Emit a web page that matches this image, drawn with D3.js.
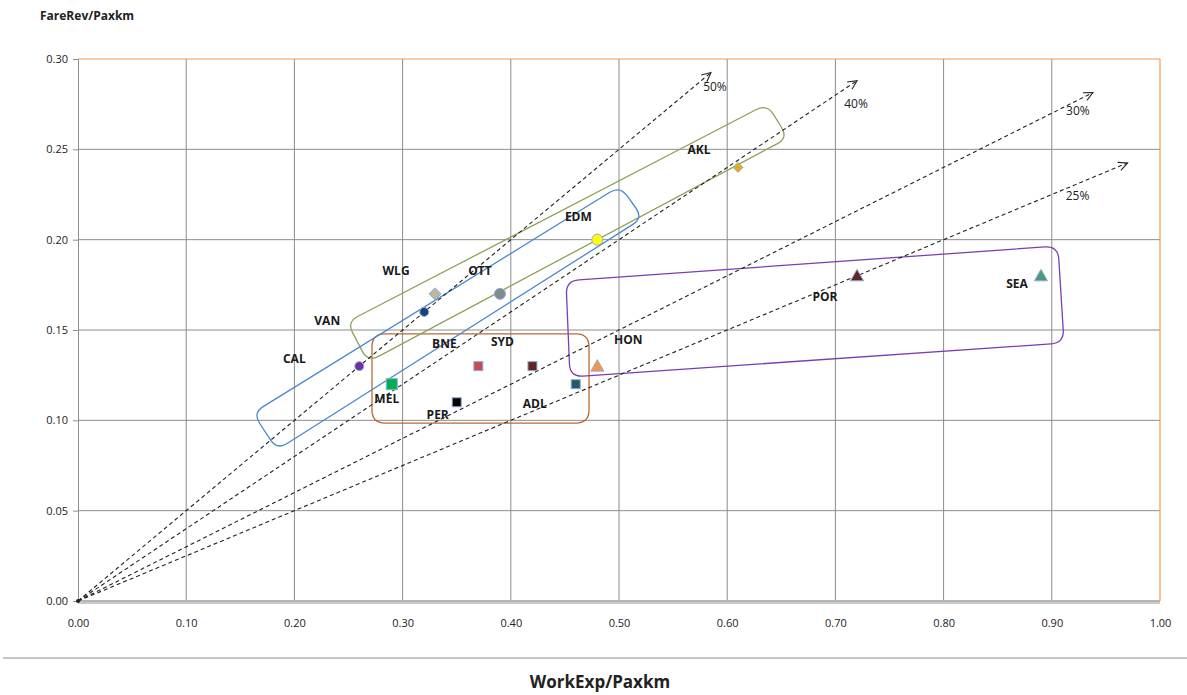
<!DOCTYPE html>
<html>
<head>
<meta charset="utf-8">
<script src="https://cdn.jsdelivr.net/npm/d3@7"></script>
<style>
  html, body { margin: 0; padding: 0; background: #fff; }
  svg { display: block; }
  text { font-family: "Open Sans", "Noto Sans", sans-serif; }
</style>
</head>
<body>
<div id="chart"></div>
<script>
// ---------------- data ----------------
const cities   = ["CAL", "VAN", "WLG", "OTT", "EDM", "AKL", "MEL", "BNE", "SYD", "PER", "ADL", "HON", "POR", "SEA"];
const workExp  = [0.26, 0.32, 0.33, 0.39, 0.48, 0.61, 0.29, 0.37, 0.42, 0.35, 0.46, 0.48, 0.72, 0.89];
const fareRev  = [0.13, 0.16, 0.17, 0.17, 0.20, 0.24, 0.12, 0.13, 0.13, 0.11, 0.12, 0.13, 0.18, 0.18];
const markerShapes = ["circle", "circle", "diamond", "circle", "circle", "diamond", "square", "square", "square", "square", "square", "triangle", "triangle", "triangle"];

// recovery-ratio guide lines from the origin (FareRev / WorkExp)
const ratioLabels = ["50%", "40%", "30%", "25%"];
const ratios      = [0.50, 0.40, 0.30, 0.25];
const ratioEndX   = [0.585, 0.72, 0.938, 0.97];

const xTicks = [0, 0.1, 0.2, 0.3, 0.4, 0.5, 0.6, 0.7, 0.8, 0.9, 1.0];
const yTicks = [0, 0.05, 0.10, 0.15, 0.20, 0.25, 0.30];

// grouping outlines (corners in data units)
const groupBlue   = [[0.1617, 0.1041], [0.5009, 0.2297], [0.5222, 0.2120], [0.1839, 0.0836]];
const groupGreen  = [[0.2486, 0.1544], [0.6368, 0.2751], [0.6562, 0.2563], [0.2680, 0.1323]];
const groupBrown  = [[0.2717, 0.1478], [0.4723, 0.1478], [0.4723, 0.0985], [0.2717, 0.0985]];
const groupPurple = [[0.4510, 0.1772], [0.9057, 0.1965], [0.9113, 0.1428], [0.4547, 0.1240]];

// ---------------- styles ----------------
const markerFill = ["#7030A0", "#1F3F7A", "#BDB7A2", "#7F8C8D", "#FFFF00", "#E3AE1B", "#00B050", "#C0504D", "#632523", "#000000", "#215967", "#F79646", "#632523", "#4A9A80"];
const labelOffset = [[-65, -6], [-97, 10], [-39, -22], [-20, -22], [-19, -22], [-39, -17], [-5, 16], [-34, -21], [-30, -23], [-19, 14], [-41, 21], [31, -25], [-32, 22], [-24, 9]];
const ratioLabelOffset = [[4, 15], [-1, 24], [-15, 19], [-50, 34]];

const W = 1187, H = 695;
const x0 = 78, x1 = 1160, y0 = 601, y1 = 59;

const svg = d3.select("#chart").append("svg").attr("width", W).attr("height", H);

const x = d3.scaleLinear().domain([0, 1]).range([x0, x1]);
const y = d3.scaleLinear().domain([0, 0.30]).range([y0, y1]);

// gridlines
svg.append("g").selectAll("line").data(yTicks.filter(t => t > 0 && t < 0.3)).join("line")
  .attr("x1", x0).attr("x2", x1).attr("y1", d => y(d)).attr("y2", d => y(d))
  .attr("stroke", "#8c8c8c").attr("stroke-width", 1);
svg.append("g").selectAll("line").data(xTicks.filter(t => t > 0 && t < 1)).join("line")
  .attr("y1", y1).attr("y2", y0).attr("x1", d => x(d)).attr("x2", d => x(d))
  .attr("stroke", "#8c8c8c").attr("stroke-width", 1);

// orange top/right borders
svg.append("line").attr("x1", x0).attr("x2", x1).attr("y1", y(0.30)).attr("y2", y(0.30))
  .attr("stroke", "#F79646").attr("stroke-width", 1.2);
svg.append("line").attr("x1", x(1)).attr("x2", x(1)).attr("y1", y1).attr("y2", y0)
  .attr("stroke", "#F79646").attr("stroke-width", 1.2);

// y axis
const yAxis = d3.axisLeft(y).tickValues(yTicks).tickFormat(d3.format(".2f")).tickSize(5).tickPadding(5);
const gy = svg.append("g").attr("transform", `translate(${x0},0)`).call(yAxis);
gy.select(".domain").attr("stroke", "#8c8c8c");
gy.selectAll(".tick line").attr("stroke", "#8c8c8c");
gy.selectAll("text").attr("font-size", 11).attr("fill", "#222").style("font-family", "'Open Sans', sans-serif");

// x axis
const xAxis = d3.axisBottom(x).tickValues(xTicks).tickFormat(d3.format(".2f")).tickSize(0).tickPadding(18);
const gx = svg.append("g").attr("transform", `translate(0,${y0})`).call(xAxis);
gx.select(".domain").remove();
gx.selectAll("text").attr("font-size", 11).attr("fill", "#222").style("font-family", "'Open Sans', sans-serif");
svg.append("line").attr("x1", x0).attr("x2", x1).attr("y1", y0 + 1).attr("y2", y0 + 1)
  .attr("stroke", "#c8c8c8").attr("stroke-width", 4);
svg.append("line").attr("x1", x0).attr("x2", x1).attr("y1", y0).attr("y2", y0)
  .attr("stroke", "#a0a0a0").attr("stroke-width", 1);

// rounded polygon helper
function roundedPath(pts, r) {
  const p = pts.map(d => [x(d[0]), y(d[1])]);
  const n = p.length;
  let s = "";
  for (let i = 0; i < n; i++) {
    const prev = p[(i - 1 + n) % n], cur = p[i], next = p[(i + 1) % n];
    const d1 = Math.hypot(prev[0] - cur[0], prev[1] - cur[1]);
    const d2 = Math.hypot(next[0] - cur[0], next[1] - cur[1]);
    const r1 = Math.min(r, d1 / 2), r2 = Math.min(r, d2 / 2);
    const a = [cur[0] + (prev[0] - cur[0]) * r1 / d1, cur[1] + (prev[1] - cur[1]) * r1 / d1];
    const b = [cur[0] + (next[0] - cur[0]) * r2 / d2, cur[1] + (next[1] - cur[1]) * r2 / d2];
    s += (i === 0 ? "M" : "L") + a[0] + "," + a[1] + "Q" + cur[0] + "," + cur[1] + " " + b[0] + "," + b[1];
  }
  return s + "Z";
}
const groups = [
  [groupBrown, "#B86A36", 13],
  [groupGreen, "#8CA356", 12],
  [groupBlue, "#4A88CC", 12],
  [groupPurple, "#7A3EB0", 13]
];
svg.append("g").selectAll("path").data(groups).join("path")
  .attr("d", d => roundedPath(d[0], d[2]))
  .attr("fill", "none").attr("stroke", d => d[1]).attr("stroke-width", 1.3);

// ratio guide lines with open arrowheads
const gr = svg.append("g");
ratios.forEach((r, i) => {
  const xe = ratioEndX[i], ye = r * xe;
  const px0 = x(0), py0 = y(0), px1 = x(xe), py1 = y(ye);
  gr.append("line").attr("x1", px0).attr("y1", py0).attr("x2", px1).attr("y2", py1)
    .attr("stroke", "#222").attr("stroke-width", 1.1).attr("stroke-dasharray", "4,3");
  const ang = Math.atan2(py1 - py0, px1 - px0);
  const L = 10, sp = 0.45;
  const pA = [px1 - L * Math.cos(ang - sp), py1 - L * Math.sin(ang - sp)];
  const pB = [px1 - L * Math.cos(ang + sp), py1 - L * Math.sin(ang + sp)];
  gr.append("path").attr("d", `M${pA[0]},${pA[1]}L${px1},${py1}L${pB[0]},${pB[1]}`)
    .attr("fill", "none").attr("stroke", "#222").attr("stroke-width", 1.1);
  gr.append("text").attr("x", px1 + ratioLabelOffset[i][0]).attr("y", py1 + ratioLabelOffset[i][1])
    .attr("text-anchor", "middle").attr("dominant-baseline", "middle")
    .attr("font-size", 12).attr("fill", "#222").text(ratioLabels[i]);
});
// origin dot
svg.append("circle").attr("cx", x(0)).attr("cy", y(0)).attr("r", 2).attr("fill", "#222");

// markers
const gm = svg.append("g");
cities.forEach((c, i) => {
  const cx = x(workExp[i]), cy = y(fareRev[i]);
  const shp = markerShapes[i];
  let el;
  if (shp === "circle") {
    const rr = (c === "OTT" || c === "EDM") ? 5.5 : 4.5;
    el = gm.append("circle").attr("cx", cx).attr("cy", cy).attr("r", rr);
  } else if (shp === "square") {
    const s = (c === "MEL") ? 11 : 9;
    el = gm.append("rect").attr("x", cx - s / 2).attr("y", cy - s / 2).attr("width", s).attr("height", s);
  } else if (shp === "diamond") {
    const s = (c === "AKL") ? 5 : 6;
    el = gm.append("path").attr("d", `M${cx},${cy - s}L${cx + s},${cy}L${cx},${cy + s}L${cx - s},${cy}Z`);
  } else {
    el = gm.append("path").attr("d", `M${cx},${cy - 6.5}L${cx + 6.5},${cy + 5}L${cx - 6.5},${cy + 5}Z`);
  }
  el.attr("fill", markerFill[i]).attr("stroke", "#8FAAD8").attr("stroke-width", 1);
});

// city labels
svg.append("g").selectAll("text").data(cities).join("text")
  .attr("x", (d, i) => x(workExp[i]) + labelOffset[i][0])
  .attr("y", (d, i) => y(fareRev[i]) + labelOffset[i][1])
  .attr("text-anchor", "middle").attr("dominant-baseline", "middle")
  .attr("font-size", 12).attr("font-weight", "bold").attr("fill", "#1a1a1a")
  .text(d => d);

// axis titles
svg.append("text").attr("x", 40).attr("y", 17).attr("dominant-baseline", "middle")
  .attr("font-size", 12).attr("font-weight", "bold").attr("fill", "#222").text("FareRev/Paxkm");
svg.append("line").attr("x1", 3).attr("x2", W).attr("y1", 658).attr("y2", 658)
  .attr("stroke", "#8c8c8c").attr("stroke-width", 1);
svg.append("text").attr("x", 600).attr("y", 683).attr("text-anchor", "middle").attr("dominant-baseline", "middle")
  .attr("font-size", 17).attr("font-weight", "bold").attr("fill", "#222").text("WorkExp/Paxkm");
</script>
</body>
</html>
